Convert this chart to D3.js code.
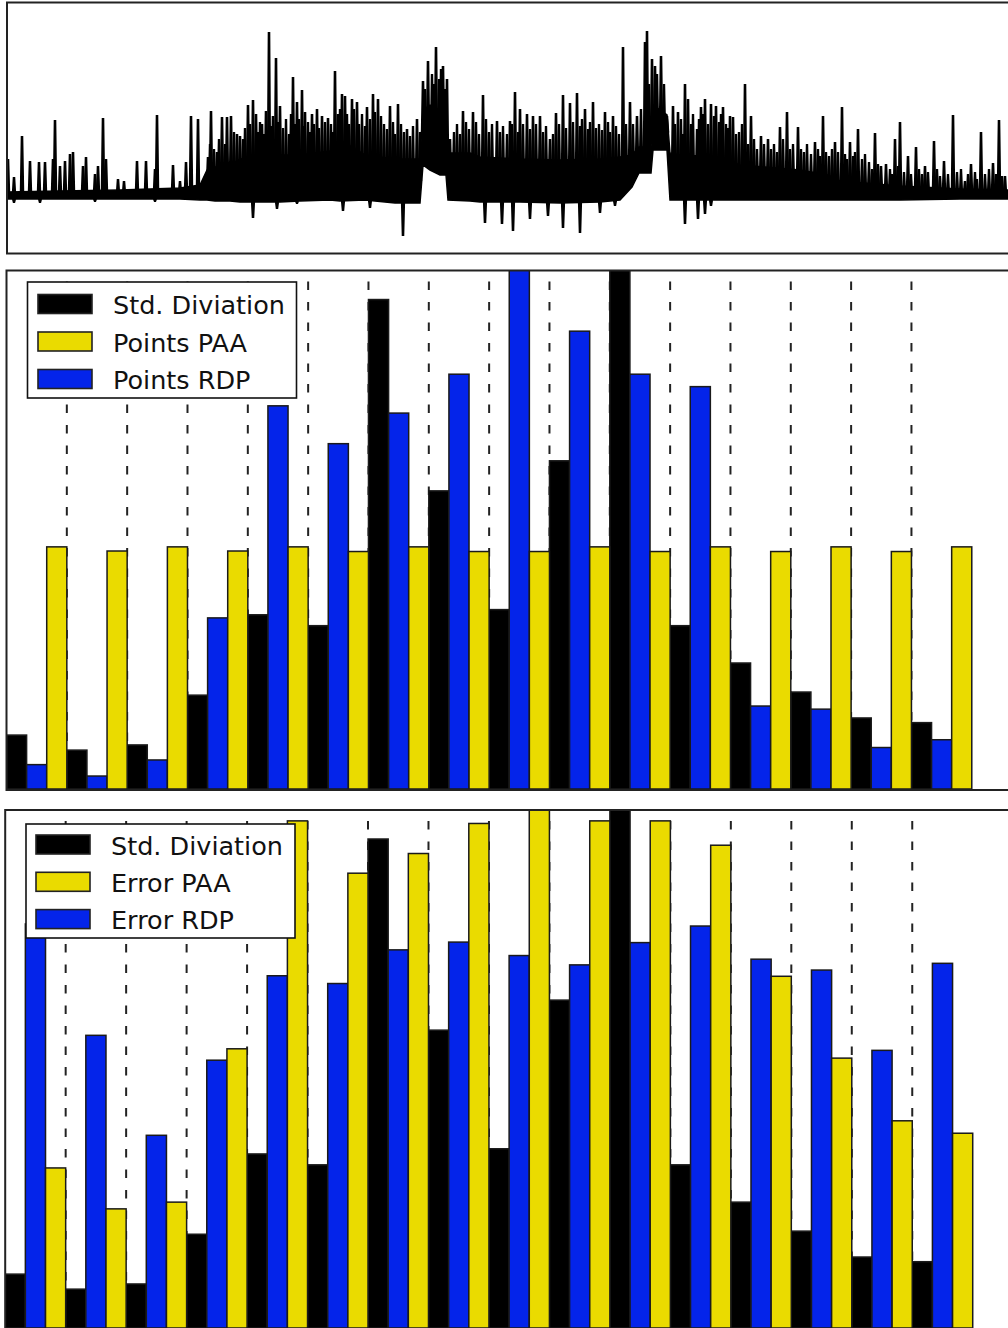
<!DOCTYPE html>
<html><head><meta charset="utf-8">
<script src="https://cdn.jsdelivr.net/npm/d3@7"></script>
<style>html,body{margin:0;padding:0;background:#fff;} svg{display:block;}</style>
</head><body>
<svg id="chart" width="1008" height="1328"></svg>
<script>
// ---------- DATA ----------
const segments = ["S1","S2","S3","S4","S5","S6","S7","S8","S9","S10","S11","S12","S13","S14","S15","S16"];

// normalised to panel height = 100
const stdDev    = [10.4, 7.5, 8.5, 18.1, 33.6, 31.5, 94.4, 57.5, 34.6, 63.3, 104, 31.5, 24.3, 18.7, 13.7, 12.8];
const pointsPAA = [46.7, 45.9, 46.7, 45.9, 46.7, 45.8, 46.7, 45.8, 45.8, 46.7, 45.8, 46.7, 45.8, 46.7, 45.8, 46.7];
const pointsRDP = [4.7, 2.5, 5.6, 33.0, 73.9, 66.6, 72.5, 80.0, 104, 88.3, 80.0, 77.6, 16.0, 15.4, 8.0, 9.5];
const errorPAA  = [30.9, 23.0, 24.3, 53.9, 97.9, 87.8, 91.6, 97.4, 104, 97.9, 97.9, 93.2, 67.9, 52.1, 40.0, 37.6];
const errorRDP  = [78, 56.5, 37.2, 51.7, 68.0, 66.5, 73.0, 74.5, 71.9, 70.1, 74.4, 77.6, 71.2, 69.1, 53.6, 70.4];

const legendTop    = ["Std. Diviation", "Points PAA", "Points RDP"];
const legendBottom = ["Std. Diviation", "Error PAA", "Error RDP"];

// signal (top panel): dense core envelope
const coreT  = [0, 53, 113, 173, 193, 200, 208, 223, 233, 253, 273, 293, 323, 333, 358, 388, 413, 416, 423, 433, 439, 441, 463, 473, 513, 553, 593, 613, 625, 632, 644, 646, 660, 663, 673, 713, 733, 793, 821, 833, 893, 953, 1001];
const coreHi = [0.03, 0.04, 0.05, 0.07, 0.10, 0.25, 0.28, 0.30, 0.36, 0.38, 0.40, 0.40, 0.44, 0.55, 0.40, 0.36, 0.36, 0.85, 0.90, 0.85, 0.85, 0.42, 0.42, 0.38, 0.36, 0.35, 0.36, 0.38, 0.40, 0.48, 0.48, 0.90, 0.80, 0.42, 0.40, 0.38, 0.30, 0.25, 0.20, 0.14, 0.09, 0.06, 0.05];
const coreLo = [-0.04, -0.04, -0.04, -0.04, -0.05, -0.05, -0.06, -0.06, -0.07, -0.07, -0.07, -0.06, -0.05, -0.06, -0.05, -0.08, -0.08, 0.30, 0.25, 0.20, 0.20, -0.05, -0.06, -0.07, -0.07, -0.08, -0.07, -0.05, 0.08, 0.22, 0.22, 0.45, 0.45, -0.05, -0.05, -0.05, -0.05, -0.05, -0.05, -0.05, -0.05, -0.04, -0.04];
// tall spikes (peaks)
const spikeT = [1, 7, 15, 23, 32, 38, 46, 48, 53, 58, 63, 66, 76, 79, 88, 91, 96, 99, 111, 117, 130, 139, 148, 150, 166, 173, 179, 184, 191, 196, 201, 204, 210, 215, 220, 224, 230, 233, 241, 246, 249, 255, 259, 262, 266, 269, 273, 286, 290, 295, 298, 305, 310, 315, 321, 328, 331,
  335, 338, 345, 350, 360, 366, 371, 383, 391, 400, 410, 416, 421, 429, 436, 440, 443, 456, 466, 476, 490, 503, 508, 513, 520, 526, 533, 543, 549, 556, 563, 570, 578, 586, 598, 606, 616, 623, 630, 638, 640, 645, 648, 654, 660,
  666, 671, 678, 681, 694, 698, 704, 709, 716, 723, 726, 738, 744, 754, 761, 773, 780, 791, 808, 816, 828, 835, 843, 851, 868, 874, 879, 888, 893, 901, 909, 918, 927, 937, 946, 958, 964, 974, 986, 992, 998];
const spikeV = [0.35, 0.17, 0.58, 0.33, 0.32, 0.32, 0.35, 0.74, 0.28, 0.33, 0.40, 0.42, 0.28, 0.37, 0.20, 0.28, 0.76, 0.35, 0.15, 0.13, 0.33, 0.33, 0.25, 0.79, 0.29, 0.13, 0.32, 0.78, 0.75, 0.12, 0.37, 0.83, 0.42, 0.77, 0.77, 0.78, 0.60, 0.58, 0.89, 0.94, 0.80, 0.70, 0.83, 1.62, 0.78, 1.36, 0.88, 1.17, 0.92, 1.04, 0.82, 0.80, 0.85, 0.78, 0.76, 1.23, 0.80,
  1.00, 0.98, 0.95, 0.92, 0.87, 1.00, 0.95, 0.88, 0.90, 0.65, 0.75, 1.13, 1.33, 1.47, 1.28, 1.15, 0.55, 0.83, 0.82, 0.99, 0.73, 0.73, 1.02, 0.85, 0.80, 0.78, 0.78, 0.55, 0.81, 0.99, 0.91, 1.01, 0.85, 0.92, 0.82, 0.78, 1.47, 0.92, 0.78, 1.52, 1.63, 1.35, 1.28, 1.38, 0.78,
  0.88, 0.82, 1.10, 0.95, 0.87, 0.95, 0.90, 0.88, 0.87, 0.78, 0.77, 1.10, 0.78, 0.58, 0.55, 0.67, 0.82, 0.67, 0.52, 0.78, 0.52, 0.87, 0.52, 0.65, 0.61, 0.28, 0.30, 0.55, 0.72, 0.38, 0.47, 0.28, 0.53, 0.33, 0.79, 0.13, 0.30, 0.62, 0.31, 0.74, 0.18];
// dense mid-height spikes that give the busy texture
const texT = [203, 207, 212, 218, 227, 236, 238,
  243, 251, 253, 257, 264, 271, 276, 279, 282, 284, 288, 292, 297, 301, 303, 307, 312, 318, 324, 326, 333,
  340, 342, 347, 352, 355, 358, 363, 368, 374, 377, 380, 386, 388, 394, 397, 403, 406, 413,
  418, 425, 427, 432, 434, 438,
  447, 450, 453, 459, 462, 469, 472, 479, 482, 485, 493, 496, 500, 505, 511, 516, 523, 529, 536, 539, 546, 552, 559, 566, 573, 575, 581, 583, 589, 592, 595, 601, 603, 609, 612, 619, 626,
  634, 642, 650, 657,
  668, 674, 676, 684, 686, 690, 692, 696, 701, 707, 712, 714, 719, 721, 729, 732, 735,
  741, 747, 750, 757, 764, 767, 770, 776, 783, 786, 794, 797, 800, 804, 811, 813, 819, 822, 825, 831, 838, 840, 846, 848, 855, 858, 862,
  865, 871, 883, 885, 891, 897, 904, 912, 915, 921, 930, 933, 941, 950, 954, 961, 968, 970, 978, 982, 989, 995];
const texV = [0.50, 0.45, 0.55, 0.50, 0.62, 0.55, 0.66,
  0.70, 0.62, 0.72, 0.60, 0.68, 0.72, 0.66, 0.75, 0.60, 0.80, 0.70, 0.75, 0.68, 0.72, 0.62, 0.70, 0.66, 0.72, 0.70, 0.62, 0.85,
  0.80, 0.70, 0.85, 0.70, 0.80, 0.68, 0.75, 0.82, 0.78, 0.70, 0.65, 0.72, 0.60, 0.70, 0.62, 0.58, 0.68, 0.62,
  1.05, 1.20, 1.10, 1.15, 1.25, 1.05,
  0.62, 0.70, 0.60, 0.72, 0.65, 0.72, 0.60, 0.75, 0.62, 0.70, 0.62, 0.68, 0.60, 0.70, 0.62, 0.70, 0.65, 0.70, 0.62, 0.68, 0.60, 0.70, 0.66, 0.72, 0.68, 0.75, 0.65, 0.72, 0.66, 0.70, 0.64, 0.72, 0.62, 0.68, 0.60, 0.70, 0.70,
  0.85, 1.10, 1.20, 1.10,
  0.70, 0.75, 0.60, 0.70, 0.80, 0.65, 0.75, 0.80, 0.70, 0.78, 0.72, 0.80, 0.70, 0.66, 0.60, 0.62, 0.70,
  0.50, 0.55, 0.45, 0.50, 0.45, 0.50, 0.42, 0.55, 0.45, 0.50, 0.45, 0.42, 0.50, 0.40, 0.45, 0.38, 0.42, 0.38, 0.45, 0.42, 0.40, 0.35, 0.38, 0.42, 0.35, 0.40, 0.32,
  0.25, 0.30, 0.25, 0.20, 0.28, 0.22, 0.20, 0.25, 0.20, 0.22, 0.25, 0.18, 0.20, 0.22, 0.25, 0.20, 0.22, 0.15, 0.20, 0.25, 0.20, 0.18];
// downward dips
const dipT = [7, 33, 88, 148, 246, 270, 290, 336, 363, 396, 478, 495, 506, 523, 541, 556, 573, 593, 608, 678, 691, 698, 704];
const dipV = [-0.07, -0.07, -0.06, -0.06, -0.22, -0.13, -0.08, -0.15, -0.12, -0.40, -0.27, -0.28, -0.35, -0.23, -0.20, -0.32, -0.37, -0.17, -0.10, -0.28, -0.23, -0.18, -0.10];

// ---------- STYLE ----------
const C_BLACK = "#000000", C_YELLOW = "#EADB00", C_BLUE = "#0424EA";
const FONT = "'DejaVu Sans', sans-serif";

const svg = d3.select("#chart");

// ---------- TOP PANEL ----------
(function(){
  const L = 7, R = 1014, T = 2.5, B = 253.5;
  const x = d3.scaleLinear().domain([0, 1001]).range([7, 1008]);
  const y = d3.scaleLinear().domain([-0.585, 1.925]).range([B, T]);
  // piecewise scales giving the core band at any time
  const loAt = d3.scaleLinear().domain(coreT).range(coreLo).clamp(true);
  const hiAt = d3.scaleLinear().domain(coreT).range(coreHi).clamp(true);
  svg.append("clipPath").attr("id","clipTop").append("rect").attr("x",L).attr("y",T).attr("width",R-L).attr("height",B-T);
  const g = svg.append("g").attr("clip-path","url(#clipTop)");
  const core = coreT.map((t,i)=>({t, hi: coreHi[i], lo: coreLo[i]}));
  g.append("path").datum(core)
    .attr("d", d3.area().x(d=>x(d.t)).y0(d=>y(d.lo)).y1(d=>y(d.hi)))
    .attr("fill","#000").attr("stroke","#000").attr("stroke-width",1.5);
  const upPath = (t, v, hw) => {
    const b = Math.max(0, (loAt(t) + hiAt(t)) / 2);
    return d3.line()([[x(t-hw), y(b)], [x(t-0.3), y(v)], [x(t+0.3), y(v)], [x(t+hw), y(b)]]);
  };
  const downPath = (t, v, hw) => {
    const b = loAt(t);
    return d3.line()([[x(t-hw), y(b)], [x(t-0.3), y(v)], [x(t+0.3), y(v)], [x(t+hw), y(b)]]);
  };
  const tex = texT.map((t,i)=>({t, v: texV[i]}));
  g.selectAll("path.tex").data(tex).join("path").attr("class","tex")
    .attr("d", d => upPath(d.t, d.v, 1.3))
    .attr("fill","#000").attr("stroke","#000").attr("stroke-width",1.8);
  const spikes = spikeT.map((t,i)=>({t, v: spikeV[i]}));
  g.selectAll("path.spk").data(spikes).join("path").attr("class","spk")
    .attr("d", d => upPath(d.t, d.v, 1.3))
    .attr("fill","#000").attr("stroke","#000").attr("stroke-width",2);
  const dips = dipT.map((t,i)=>({t, v: dipV[i]}));
  g.selectAll("path.dip").data(dips).join("path").attr("class","dip")
    .attr("d", d => downPath(d.t, d.v, 1.1))
    .attr("fill","#000").attr("stroke","#000").attr("stroke-width",2);
  svg.append("rect").attr("x",L).attr("y",T).attr("width",R-L).attr("height",B-T)
    .attr("fill","none").attr("stroke","#222").attr("stroke-width",2);
})();

// ---------- BAR PANELS ----------
function barPanel(id, T, B, x0, step, series, labels, lg) {
  const x = d3.scaleBand().domain(segments).range([x0, x0 + step*segments.length]).padding(0);
  const keys = series.map(s=>s.key);
  const xs = d3.scaleBand().domain(keys).range([0, x.bandwidth()]).padding(0);
  const y = d3.scaleLinear().domain([0, 100]).range([B, T]);
  const R = 1014;
  svg.append("clipPath").attr("id",id).append("rect").attr("x",x0).attr("y",T).attr("width",R-x0).attr("height",B-T+2);
  const g = svg.append("g").attr("clip-path",`url(#${id})`);
  g.selectAll("line.sep").data(segments.slice(1)).join("line").attr("class","sep")
    .attr("x1", d=>x(d)).attr("x2", d=>x(d)).attr("y1", T).attr("y2", B)
    .attr("stroke","#222").attr("stroke-width",2)
    .attr("stroke-dasharray","8.5,12").attr("stroke-dashoffset", 9.5);
  series.forEach(s => {
    g.selectAll(null).data(segments).join("rect")
      .attr("x", d => x(d) + xs(s.key))
      .attr("width", xs.bandwidth())
      .attr("y", (d,i) => y(s.values[i]))
      .attr("height", (d,i) => y(0) - y(s.values[i]))
      .attr("fill", s.color).attr("stroke","#1a1a1a").attr("stroke-width",1.5);
  });
  svg.append("rect").attr("x",x0).attr("y",T).attr("width",R-x0).attr("height",B-T+1)
    .attr("fill","none").attr("stroke","#222").attr("stroke-width",2);
  const lgG = svg.append("g");
  lgG.append("rect").attr("x",lg.x).attr("y",lg.y).attr("width",lg.w).attr("height",lg.h)
    .attr("fill","#fff").attr("stroke","#111").attr("stroke-width",1.6);
  const order = [0, 2, 1]; // std, PAA, RDP
  order.forEach((si, r) => {
    const s = series[si];
    const base = lg.base0 + r*lg.gap;
    lgG.append("rect").attr("x",lg.hx).attr("y",base-19.5).attr("width",54).attr("height",19)
      .attr("fill",s.color).attr("stroke","#222").attr("stroke-width",1.6);
    lgG.append("text").attr("x",lg.tx).attr("y",base).text(labels[r])
      .attr("font-family",FONT).attr("font-size","25.5px").attr("fill","#111");
  });
}

barPanel("clipMid", 270.5, 789, 6.5, 60.33,
  [{key:"std", values: stdDev, color: C_BLACK},
   {key:"rdp", values: pointsRDP, color: C_BLUE},
   {key:"paa", values: pointsPAA, color: C_YELLOW}],
  legendTop, {x:27.5, y:282, w:269, h:116, hx:38, tx:113, base0:314, gap:37.5});

barPanel("clipBot", 810, 1328, 5.2, 60.47,
  [{key:"std", values: stdDev, color: C_BLACK},
   {key:"rdp", values: errorRDP, color: C_BLUE},
   {key:"paa", values: errorPAA, color: C_YELLOW}],
  legendBottom, {x:26, y:824, w:269, h:114, hx:36, tx:111, base0:854.5, gap:37.3});
</script>
</body></html>
